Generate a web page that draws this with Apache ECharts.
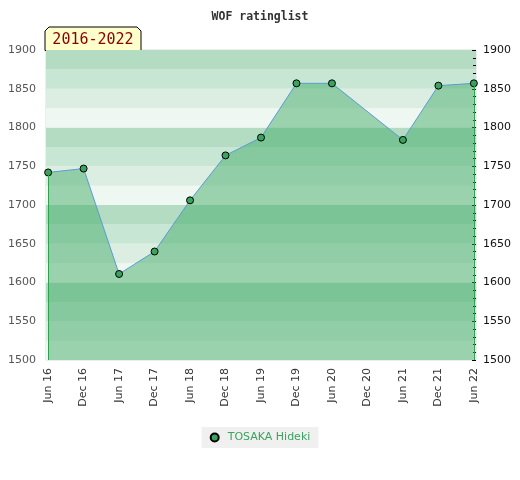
<!DOCTYPE html>
<html><head><meta charset="utf-8">
<script src="https://cdn.jsdelivr.net/npm/echarts@6/dist/echarts.min.js"></script>
<style>html,body{margin:0;padding:0;background:#fff}#c{width:520px;height:480px}</style>
</head><body><div id="c"></div>
<script>
var categories = ['Jun 16','Dec 16','Jun 17','Dec 17','Jun 18','Dec 18','Jun 19','Dec 19','Jun 20','Dec 20','Jun 21','Dec 21','Jun 22'];
var ratings = [1742, 1747, 1611, 1640, 1706, 1764, 1787, 1857, 1857, null, 1784, 1854, 1857];
var yTicks = [1500, 1550, 1600, 1650, 1700, 1750, 1800, 1850, 1900];
var playerName = 'TOSAKA Hideki';
var titleText = 'WOF ratinglist';
var periodText = '2016-2022';

var points = [];
ratings.forEach(function (v, i) { if (v !== null) points.push([i, v]); });
var firstIdx = 0, lastIdx = categories.length - 1;
var yMin = yTicks[0], yMax = yTicks[yTicks.length - 1];

var chart = echarts.init(document.getElementById('c'));
chart.setOption({
  animation: false,
  title: {
    text: titleText, left: 'center', top: 6,
    textStyle: { fontFamily: 'DejaVu Sans Mono', fontSize: 11.5, fontWeight: 'bold', color: '#333' }
  },
  grid: { left: 46, right: 44, top: 50, bottom: 120, show: true, borderColor: '#dcdcdc', borderWidth: 1 },
  legend: {
    left: 'center', top: 427, padding: [5, 8, 5, 8], backgroundColor: '#f0f0f0',
    itemWidth: 8, itemHeight: 8, itemGap: 10,
    textStyle: { color: '#3aa35e', fontFamily: 'DejaVu Sans', fontSize: 11, padding: [0, 0, 0, 4] },
    data: [{ name: playerName, icon: 'circle' }]
  },
  xAxis: {
    type: 'value', min: -0.06, max: lastIdx + 0.06,
    axisLine: { show: false }, axisTick: { show: false }, splitLine: { show: false },
    axisLabel: {
      customValues: categories.map(function (c, i) { return i; }),
      rotate: 90, margin: 8, color: '#333', fontFamily: 'DejaVu Sans', fontSize: 11,
      formatter: function (v) { return categories[Math.round(v)]; }
    }
  },
  yAxis: [{
    type: 'value', position: 'left', min: yMin, max: yMax, interval: 25,
    axisLine: { show: false }, axisTick: { show: false }, splitLine: { show: false },
    splitArea: { show: true, areaStyle: { color: ['#eff7f2', '#dcede2', '#c8e6d4', '#b3dcc2'] } },
    axisLabel: {
      margin: 10, color: '#555', fontFamily: 'DejaVu Sans', fontSize: 11,
      formatter: function (v) { return v % 50 === 0 ? String(v) : ''; }
    }
  }, {
    type: 'value', position: 'right', min: yMin, max: yMax, interval: 50,
    axisLine: { show: false },
    axisTick: { show: true, inside: true, length: 4, lineStyle: { color: '#000' } },
    minorTick: { show: true, splitNumber: 5, length: 3, lineStyle: { color: '#000' } },
    splitLine: { show: false }, minorSplitLine: { show: false },
    axisLabel: { margin: 7, color: '#111', fontFamily: 'DejaVu Sans', fontSize: 11,
      formatter: function (v) { return String(v); } }
  }],
  graphic: [{
    type: 'group', z: 100,
    children: [{
      type: 'polygon',
      shape: { points: [[45, 50.5], [45, 31], [49, 27], [137, 27], [141, 31], [141, 50.5]] },
      style: { fill: '#ffffcc', stroke: '#000', lineWidth: 1 }
    }, {
      type: 'text', x: 93, y: 40,
      style: { text: periodText, fill: '#8b0000', font: '15px "DejaVu Sans Mono"', align: 'center', verticalAlign: 'middle' }
    }]
  }],
  series: [{
    name: playerName, type: 'line', data: points,
    symbol: 'circle', symbolSize: 7,
    itemStyle: { color: '#3aa35e', borderColor: '#000', borderWidth: 1 },
    lineStyle: { color: '#5b9bd5', width: 1 },
    areaStyle: { color: '#3eaa64', opacity: 0.48, origin: 'start' },
    z: 3,
    markLine: {
      silent: true, symbol: ['none', 'none'], label: { show: false },
      lineStyle: { color: '#2ea04f', width: 1, type: 'solid' },
      data: [
        [{ coord: [firstIdx, ratings[firstIdx]] }, { coord: [firstIdx, yMin] }],
        [{ coord: [lastIdx, ratings[lastIdx]] }, { coord: [lastIdx, yMin] }]
      ]
    }
  }]
});
</script></body></html>
